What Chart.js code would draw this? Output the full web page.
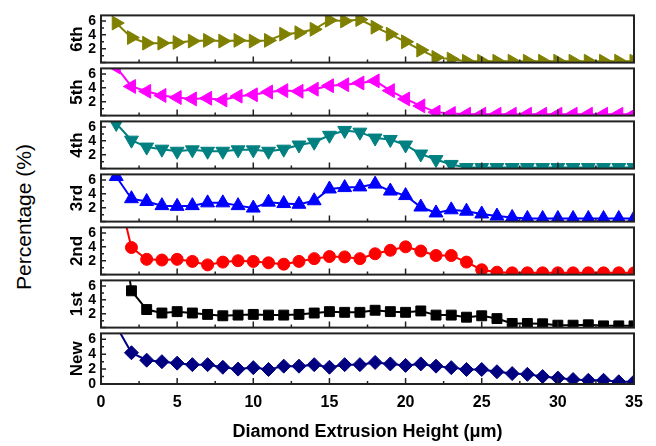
<!DOCTYPE html>
<html>
<head>
<meta charset="utf-8">
<script src="https://cdn.jsdelivr.net/npm/chart.js@4.4.1/dist/chart.umd.min.js"></script>
<style>
  body { margin: 0; background: #fff; width: 656px; height: 446px; position: relative; overflow: hidden; }
  canvas { position: absolute; left: 0; }
  #ytitle {
    position: absolute; left: 24px; top: 217px;
    transform: translate(-50%, -50%) rotate(-90deg);
    font: 21px "Liberation Sans", Arial, sans-serif; color: #000; white-space: nowrap;
  }
</style>
</head>
<body>
<div id="ytitle">Percentage (%)</div>
<script>
// extrusion heights (um), one point per micron
const heights = [1,2,3,4,5,6,7,8,9,10,11,12,13,14,15,16,17,18,19,20,21,22,23,24,25,26,27,28,29,30,31,32,33,34,35];

const panelLabels = ['6th', '5th', '4th', '3rd', '2nd', '1st', 'New'];

const sixth  = [5.7,3.6,2.8,2.8,2.9,3.1,3.2,3.1,3.2,3.1,3.2,4.1,4.3,4.8,6.1,6.0,6.2,5.1,4.1,3.0,1.8,0.75,0.5,0.2,0.2,0.2,0.2,0.2,0.2,0.2,0.2,0.2,0.2,0.2,0.2];
const fifth  = [7.0,4.2,3.5,2.9,2.6,2.4,2.5,2.25,2.8,3.0,3.4,3.6,3.5,3.8,4.3,4.45,4.7,5.0,3.6,2.4,1.4,0.5,0.3,0.2,0.2,0.2,0.2,0.2,0.2,0.2,0.2,0.2,0.2,0.2,0.2];
const fourth = [6.5,4.1,3.1,2.8,2.5,2.7,2.5,2.5,2.7,2.7,2.5,2.8,3.4,3.8,4.8,5.5,5.25,4.4,4.2,3.4,2.1,1.3,0.6,0.15,0.15,0.15,0.15,0.15,0.15,0.15,0.15,0.15,0.15,0.15,0.15];
const third  = [6.5,3.3,2.9,2.3,2.2,2.3,2.7,2.7,2.3,1.95,2.8,2.6,2.5,3.0,4.7,4.9,5.0,5.4,4.4,3.75,2.1,1.25,1.7,1.5,1.1,0.8,0.6,0.45,0.45,0.45,0.45,0.45,0.45,0.45,0.45];
const second = [13,3.9,2.2,2.1,2.2,1.9,1.4,1.8,2.0,1.9,1.7,1.5,1.9,2.3,2.6,2.55,2.3,3.0,3.5,4.0,3.4,2.75,2.75,1.8,0.7,0.35,0.25,0.25,0.25,0.25,0.25,0.25,0.25,0.25,0.25];
const first  = [20,5.3,2.6,2.1,2.3,2.1,1.9,1.7,1.8,1.9,1.8,1.8,1.9,2.1,2.3,2.2,2.2,2.5,2.3,2.2,2.4,1.8,1.8,1.5,1.7,1.3,0.6,0.6,0.55,0.35,0.35,0.4,0.25,0.25,0.25];
const newer  = [7.8,4.2,3.2,3.0,2.8,2.6,2.6,2.25,2.0,2.2,1.95,2.4,2.4,2.6,2.25,2.6,2.6,2.9,2.7,2.5,2.7,2.4,2.2,1.95,1.95,1.65,1.4,1.3,1.0,0.8,0.6,0.5,0.5,0.3,0.3];

const xTicks = [0, 5, 10, 15, 20, 25, 30, 35];
const yTicks = [2, 4, 6];
const yTicksBottom = [0, 2, 4, 6];

const series = [sixth, fifth, fourth, third, second, first, newer];
const colors = ['#808000', '#ff00ff', '#008080', '#0000ff', '#ff0000', '#000000', '#000080'];
const styles = [
  { pointStyle: 'triangle', rotation: 90, radius: 8 },
  { pointStyle: 'triangle', rotation: -90, radius: 8 },
  { pointStyle: 'triangle', rotation: 180, radius: 8 },
  { pointStyle: 'triangle', rotation: 0, radius: 8 },
  { pointStyle: 'circle', rotation: 0, radius: 6 },
  { pointStyle: 'rect', rotation: 0, radius: 7 },
  { pointStyle: 'rectRot', rotation: 0, radius: 7 }
];

const FONT = '"Liberation Sans", Arial, sans-serif';
const PLOT_LEFT = 101, PLOT_RIGHT = 634, PLOT_TOP = 12, PLOT_BOTTOM = 384;
const panelH = (PLOT_BOTTOM - PLOT_TOP) / series.length;

// frame around each panel plus inward tick marks
const frameTicks = {
  id: 'frameTicks',
  afterDatasetsDraw(chart) {
    const { ctx, chartArea: a, scales: { x, y } } = chart;
    ctx.save();
    ctx.strokeStyle = '#222';
    ctx.lineWidth = 1.5;
    ctx.beginPath();
    for (let v = 0; v <= 35; v += 2.5) {
      const px = x.getPixelForValue(v);
      const len = v % 5 === 0 ? 6 : 3;
      ctx.moveTo(px, a.bottom);
      ctx.lineTo(px, a.bottom - len);
    }
    for (let v = 0; v <= 6; v++) {
      const py = y.getPixelForValue(v);
      const len = v % 2 === 0 ? 5 : 3;
      ctx.moveTo(a.left, py);
      ctx.lineTo(a.left + len, py);
    }
    ctx.stroke();
    ctx.lineWidth = 2;
    ctx.strokeRect(a.left, a.top, a.right - a.left, a.bottom - a.top);
    ctx.restore();
  }
};

series.forEach((vals, i) => {
  const last = i === series.length - 1;
  const top = PLOT_TOP + i * panelH;
  const bottom = top + panelH;
  const cTop = Math.floor(top) - 10;
  const cBottom = last ? 446 : Math.ceil(bottom) + 10;

  const canvas = document.createElement('canvas');
  canvas.width = 656;
  canvas.height = cBottom - cTop;
  canvas.style.top = cTop + 'px';
  document.body.appendChild(canvas);

  new Chart(canvas, {
    type: 'line',
    data: {
      datasets: [{
        data: heights.map((h, k) => ({ x: h, y: vals[k] })),
        borderColor: colors[i],
        backgroundColor: colors[i],
        borderWidth: 2,
        pointStyle: styles[i].pointStyle,
        pointRotation: styles[i].rotation,
        pointRadius: styles[i].radius,
        pointBorderWidth: 1,
        tension: 0,
        clip: 0
      }]
    },
    options: {
      responsive: false,
      animation: false,
      events: [],
      layout: {
        padding: {
          left: 64,
          right: 656 - PLOT_RIGHT,
          top: top - cTop,
          bottom: last ? 0 : cBottom - bottom
        }
      },
      plugins: { legend: { display: false }, tooltip: { enabled: false } },
      scales: {
        x: {
          type: 'linear',
          min: 0,
          max: 35,
          display: last,
          afterBuildTicks: s => { s.ticks = xTicks.map(v => ({ value: v })); },
          afterFit: s => { if (last) s.height = 446 - PLOT_BOTTOM; },
          grid: { display: false, drawTicks: false, tickLength: 0 },
          border: { display: false },
          ticks: { color: '#000', padding: 9, maxRotation: 0, autoSkip: false, font: { family: FONT, size: 16, weight: 'bold' } },
          title: {
            display: true,
            text: 'Diamond Extrusion Height (\u03bcm)',
            color: '#000',
            padding: { top: 0, bottom: 3 },
            font: { family: FONT, size: 18, weight: 'bold' }
          }
        },
        y: {
          min: 0,
          max: 6.8,
          afterBuildTicks: s => { s.ticks = (last ? yTicksBottom : yTicks).map(v => ({ value: v })); },
          afterFit: s => { s.width = PLOT_LEFT - 64; },
          grid: { display: false, drawTicks: false, tickLength: 0 },
          border: { display: false },
          ticks: { color: '#000', padding: 5, autoSkip: false, font: { family: FONT, size: 14, weight: 'bold' } },
          title: {
            display: true,
            text: panelLabels[i],
            color: '#000',
            padding: { top: 3, bottom: 0 },
            font: { family: FONT, size: 17, weight: 'bold' }
          }
        }
      }
    },
    plugins: [frameTicks]
  });
});
</script>
</body>
</html>
